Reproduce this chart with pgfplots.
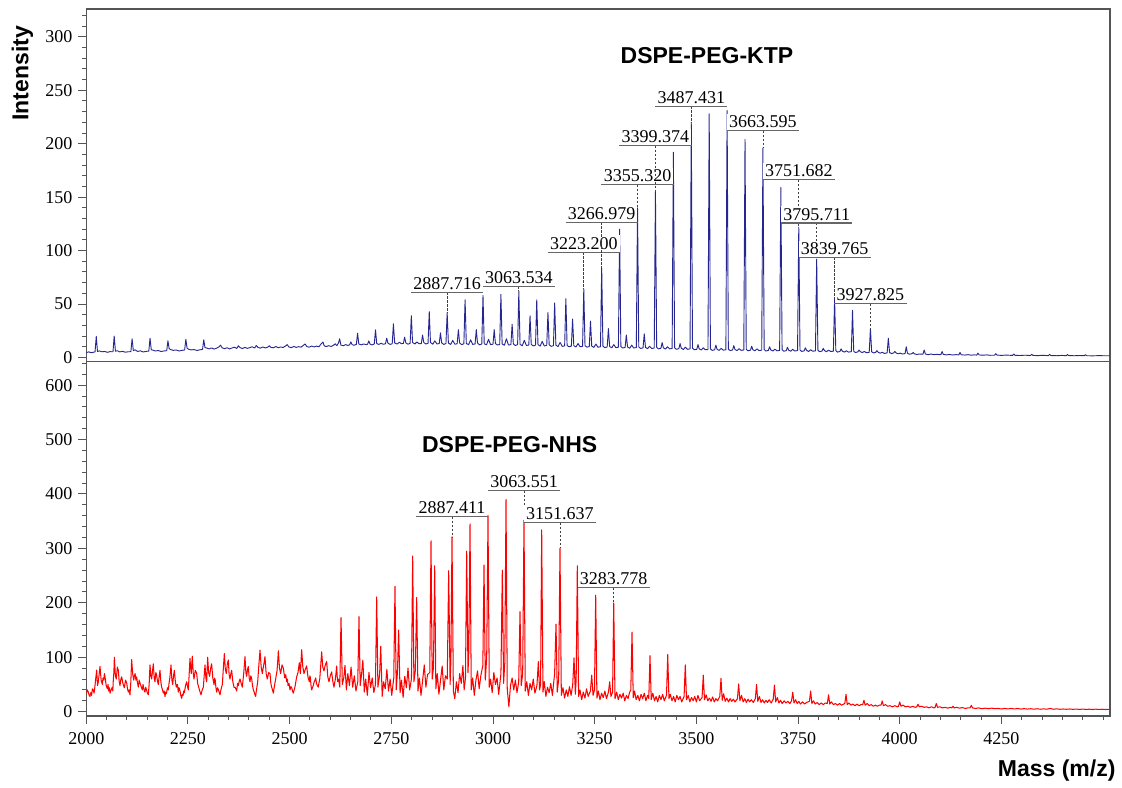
\documentclass[border=0pt]{standalone}
\usepackage{fontspec}
\setmainfont{Liberation Serif}
\newfontfamily\arialf{Liberation Sans}
\usepackage{pgfplots}
\pgfplotsset{compat=1.18}
\definecolor{specblue}{RGB}{38,38,145}
\definecolor{framegray}{RGB}{85,85,85}
\newcommand{\lblfont}{\fontsize{10.8}{12}\selectfont}
\newcommand{\pk}[4]{%
 \draw[dash pattern=on 1.4pt off 1pt, black!75, line width=0.5pt] (axis cs:#1,#2) -- (axis cs:#1,#3);
 \node[anchor=south, inner xsep=1.2pt, inner ysep=1.3pt, fill=white, font=\lblfont] (n) at (axis cs:#1,#2) {#4};
 \draw[black!60, line width=0.9pt] (n.south west) -- (n.south east);
}
\pgfplotsset{
 specaxis/.style={
  scale only axis, width=614.2pt,
  xmin=2000, xmax=4517,
  axis line style={draw=framegray, line width=0.9pt},
  tick align=outside,
  major tick length=4.8pt, minor tick length=2.6pt,
  every tick/.style={framegray, line width=0.6pt},
  ytick pos=left, xtick pos=bottom,
  tick label style={font=\fontsize{10.8}{12}\selectfont},
  xticklabel style={yshift=-1.5pt},
  /pgf/number format/assume math mode=true,
  /pgf/number format/1000 sep={},
  clip=true,
 }
}
\begin{document}
\begin{tikzpicture}[x=1pt,y=1pt]
\path[use as bounding box] (0,0) rectangle (673.2,-472.2);
\begin{axis}[specaxis, name=top, at={(51.78pt,-217.02pt)}, anchor=south west,
 height=211.6pt, ymin=-4, ymax=326,
 xtick=\empty, ytick={0,50,...,300}, minor ytick={0,10,...,320}]
\addplot[specblue, line width=0.55pt, line join=round] coordinates {
(2000,4.5) (2006,5.2) (2012,4.4) (2018,4.9) (2021.5,5.2) (2024.5,19.7) (2027.5,5.6) (2032,6.1) (2038,5.3) (2045,5.6) (2052,4.8) (2058,5.4) (2065.6,5.3) (2068.6,20) (2071.6,5.8) (2076,6.3) (2082,5.2) (2089,5.7) (2096,4.9) (2103,5.3) (2109.6,5.4) (2112.6,17.5) (2115.6,6.4) (2120,7.1) (2126,5.6) (2133,6.2) (2140,5.1) (2147,5.7) (2153.7,5.9) (2156.7,18) (2159.7,7.2) (2164,6.8) (2170,6.0) (2177,6.5) (2184,5.5) (2191,6.1) (2197.7,6.3) (2200.7,15.6) (2203.7,8.2) (2208,7.3) (2214,6.6) (2221,7.0) (2228,6.0) (2235,6.6) (2241.8,7.0) (2244.8,17) (2247.8,8.6) (2252,7.6) (2258,7.0) (2265,7.4) (2272,6.5) (2279,7.1) (2285.8,7.5) (2288.8,16.5) (2291.8,9.3) (2296,8.8)
(2302,8.0) (2308,8.9) (2314,7.8) (2320,8.6) (2326,9.8) (2330,11.5) (2334,9.0) (2340,8.2) (2346,9.1) (2352,8.0) (2358,8.8) (2364,9.6) (2370,8.4) (2374,10.9) (2378,9.2) (2384,8.3) (2390,9.4) (2396,8.5) (2402,9.2) (2408,10.0) (2414,8.8) (2418,11.2) (2422,9.4) (2428,8.7) (2434,9.8) (2440,8.9) (2446,9.6) (2450,11.0) (2454,9.4) (2460,9.0) (2466,10.2) (2472,9.1) (2478,9.8) (2484,9.3) (2490,10.8) (2494,12.0) (2498,9.8) (2504,9.2) (2510,10.3) (2516,9.4) (2522,10.1) (2528,9.6) (2534,11.4) (2538,12.6) (2542,10.2) (2548,9.6) (2554,10.7) (2560,9.8) (2566,10.6) (2572,10.0) (2578,13.0) (2582,14.4) (2585,10.8) (2590,10.2) (2596,11.0) (2602,10.3) (2608,11.4) (2612,12.8) (2616,11.0) (2620,13.5) (2623,17.5) (2626,11.5) (2632,11.0) (2638,12.0) (2643,11.2) (2647.5,11.8) (2650.5,14.5) (2653.5,12.0) (2658,11.4) (2664,12.2) (2667,22.7) (2670,12.6) (2676,11.8) (2682,12.6) (2688,12.0) (2691.6,12.4) (2694.6,15.5) (2697.6,12.5) (2703,11.7) (2708.1,12.6) (2711.1,25.8) (2714.1,13) (2719,12.2) (2725,13.2) (2730,12.3) (2735.65,12.8) (2738.65,18) (2741.65,13.4) (2747,12.2) (2752.15,12.8) (2755.15,31.5) (2758.15,13.6) (2764,12.5) (2770,14.2) (2775,12.8) (2779.7,13.2) (2782.7,19) (2785.7,13.6) (2791,12.4) (2796.2,13.2) (2799.2,39) (2802.2,14) (2808,12.6) (2813,14.5) (2818,12.8) (2823.75,13) (2826.75,21) (2829.75,14) (2835,12.6) (2840.25,13.2) (2843.25,43) (2846.25,14) (2852,12.4) (2857,15.5) (2862,12.6) (2867.8,13) (2870.8,23) (2873.8,13.6) (2879,12.2) (2884.3,13) (2887.3,42) (2890.3,13.4) (2896,12.2) (2901,16) (2906,12.4) (2911.85,12.8) (2914.85,26) (2917.85,13.6) (2923,12) (2928.35,12.8) (2931.35,54) (2934.35,13) (2940,12) (2945,16.5) (2950,12.2) (2955.9,12.6) (2958.9,26) (2961.9,13.4) (2967,11.8) (2972.4,12.6) (2975.4,58) (2978.4,12.8) (2984,11.8) (2989,17) (2994,12) (2999.95,12.4) (3002.95,26) (3005.95,13) (3011,11.6) (3016.45,12.2) (3019.45,59) (3022.45,12.6) (3028,11.4) (3033,17.5) (3038,11.6) (3044,12) (3047,31) (3050,12.6) (3055,11.2) (3060.5,12) (3063.5,62) (3066.5,12.2) (3072,11) (3077,16) (3082,11.2) (3088.05,11.6) (3091.05,39) (3094.05,12.2) (3099,10.8) (3104.55,11.6) (3107.55,54) (3110.55,12) (3116,10.6) (3121,15) (3126,10.8) (3132.1,11.2) (3135.1,42) (3138.1,11.8) (3143,10.4) (3148.6,11) (3151.6,51) (3154.6,11.4) (3160,10.2) (3165,14) (3170,10.4) (3176.15,10.8) (3179.15,55) (3182.15,11.2) (3187,10) (3192.65,10.6) (3195.65,36) (3198.65,11) (3204,9.8) (3209,13) (3214,10) (3220.2,10.4) (3223.2,64) (3226.2,11) (3231,9.6) (3236.7,10.2) (3239.7,34) (3242.7,10.6) (3248,9.4) (3253,12.5) (3258,9.6) (3264.25,10) (3267.25,84) (3270.25,10.6) (3275,9.2) (3280.75,9.8) (3283.75,27) (3286.75,10.2) (3292,9) (3297,12) (3302,9.2) (3308.3,9.6) (3311.3,120) (3314.3,10.2) (3319,8.8) (3324.8,9.4) (3327.8,21) (3330.8,9.8) (3336,8.6) (3341,11.5) (3346,8.8) (3352.35,9.2) (3355.35,140) (3358.35,9.8) (3363,8.4) (3368.85,9) (3371.85,22) (3374.85,9.4) (3380,8.2) (3385,10.5) (3390,8.4) (3396.4,8.8) (3399.4,155) (3402.4,9.4) (3407,8) (3412.9,8.6) (3415.9,14) (3418.9,9) (3424,7.8) (3429,10) (3434,8) (3440.45,8.4) (3443.45,192) (3446.45,9) (3451,7.6) (3456.95,8.2) (3459.95,13) (3462.95,8.6) (3468,7.4) (3473,9.6) (3478,7.6) (3484.5,8) (3487.5,220) (3490.5,8.6) (3495,7.2) (3501,7.6) (3504,12) (3507,8) (3512,7) (3517,9) (3522,7.2) (3528.55,7.4) (3531.55,228) (3534.55,8) (3539,6.6) (3545,7.2) (3548,11.5) (3551,7.6) (3556,6.6) (3561,8.5) (3566,6.8) (3572.6,7.2) (3575.6,231) (3578.6,7.8) (3583,6.4) (3589,7) (3592,11) (3595,7.4) (3600,6.4) (3605,8.2) (3610,6.6) (3616.65,7) (3619.65,204) (3622.65,7.6) (3627,6.2) (3633,6.8) (3636,10.5) (3639,7.2) (3644,6.2) (3649,8) (3654,6.4) (3660.7,6.8) (3663.7,196) (3666.7,7.4) (3671,6) (3677,6.6) (3680,10) (3683,7) (3688,6) (3693,7.8) (3698,6.2) (3704.75,6.6) (3707.75,159) (3710.75,7.2) (3715,5.8) (3721,6.4) (3724,9.5) (3727,6.8) (3732,5.8) (3737,7.6) (3742,6) (3748.8,6.4) (3751.8,122) (3754.8,7) (3759,5.6) (3765,6.2) (3768,9) (3771,6.6) (3776,5.6) (3781,7.2) (3786,5.8) (3792.85,6.2) (3795.85,92) (3798.85,6.8) (3803,5.4) (3809,6) (3812,8.5) (3815,6.4) (3820,5.4) (3825,6.8) (3830,5.6) (3836.9,5.8) (3839.9,55) (3842.9,6.4) (3847,5) (3853,5.6) (3856,8) (3859,5.8) (3864,5) (3869,6.2) (3874,5) (3880.95,5.4) (3883.95,44) (3886.95,5.8) (3891,4.6) (3897,5.2) (3900,7) (3903,5.4) (3908,4.6) (3913,5.6) (3918,4.4) (3925,4.8) (3928,27) (3931,5.2) (3936,4.2) (3941,4.8) (3944,6.4) (3947,4.8) (3952,4) (3957,4.8) (3962,3.8) (3969.05,4.2) (3972.05,18) (3975.05,4.6) (3980,3.6) (3985,4.2) (3988,5.6) (3991,4.2) (3996,3.4) (4001,4) (4006,3.2) (4013.1,3.6) (4016.1,10) (4019.1,3.8) (4024,3) (4030,3.5) (4033,4.6) (4036,3.4) (4042,2.8) (4048,3.2) (4057.15,3) (4060.15,7) (4063.15,3.2) (4070,2.6) (4077,3.2) (4084,2.6) (4090,2.9) (4101.2,2.6) (4104.2,5.5) (4107.2,2.8) (4115,2.4) (4122,2.8) (4130,2.3) (4138,2.6) (4145.25,2.4) (4148.25,4.6) (4151.25,2.5) (4160,2.2) (4168,2.6) (4176,2.1) (4183,2.4) (4189.3,2.2) (4192.3,4) (4195.3,2.3) (4205,2.1) (4214,2.4) (4222,2) (4233.35,2.1) (4236.35,3.5) (4239.35,2.2) (4250,1.9) (4262,2.2) (4277.4,1.9) (4280.4,3.2) (4283.4,2) (4295,1.8) (4308,2.1) (4321.45,1.8) (4324.45,3) (4327.45,1.9) (4340,1.7) (4352,2) (4365.5,1.7) (4368.5,2.9) (4371.5,1.8) (4385,1.6) (4398,1.9) (4409.55,1.6) (4412.55,2.7) (4415.55,1.7) (4430,1.6) (4443,1.8) (4453.6,1.6) (4456.6,2.6) (4459.6,1.6) (4475,1.5) (4490,1.7) (4500,1.6) (4517,1.6)
};
\node[font=\arialf\bfseries\fontsize{13.8}{16}\selectfont] at (axis cs:3526,282.5) {DSPE-PEG-KTP};
\pk{2887.3}{60.9}{42}{2887.716}
\pk{3063.5}{66.5}{62}{3063.534}
\pk{3223.2}{98.3}{64}{3223.200}
\pk{3267.25}{126.4}{84}{3266.979}
\pk{3355.35}{161.7}{140}{3355.320}
\pk{3399.4}{198.2}{155}{3399.374}
\pk{3487.5}{235}{220}{3487.431}
\pk{3663.7}{212.3}{196}{3663.595}
\pk{3751.8}{166.4}{122}{3751.682}
\pk{3795.85}{125.8}{92}{3795.711}
\pk{3839.9}{93.6}{55}{3839.765}
\pk{3928}{50.3}{27}{3927.825}
\end{axis}
\begin{axis}[specaxis, name=bot, at={(top.south west)}, anchor=north west,
 height=212.6pt, ymin=-8, ymax=643,
 xtick={2000,2250,...,4250}, minor xtick={2000,2050,...,4500},
 ytick={0,100,...,600}, minor ytick={0,20,...,640}]
\addplot[red, line width=0.62pt, line join=round] coordinates {
(2000,33) (2002.5,40) (2005,36) (2007,30) (2009,28) (2011,35) (2013,30) (2015,42) (2017,40) (2019,34) (2021,45) (2023,60) (2025.5,76.5) (2027.5,48) (2029.6,55) (2031.5,68) (2033.7,83) (2036.5,58) (2039.4,50) (2041,62) (2043,58) (2044.5,70) (2046,64) (2049,48) (2051.7,42) (2053.5,50) (2055,38) (2056.8,44) (2058.3,34) (2061,40) (2064,45) (2065.2,38) (2066.5,60) (2067.8,72) (2069,100) (2071.5,66) (2073.8,60) (2076.3,82) (2078.8,76) (2080.8,56) (2082.9,48) (2085,60) (2087,64) (2090,52) (2093.5,44) (2096.5,58) (2099.3,53) (2101.3,42) (2103.3,36) (2105.4,40) (2107.4,31) (2109.5,55) (2111.5,96) (2114,70) (2116.5,58) (2118.3,66) (2120,70) (2122,58) (2123.8,64) (2126,52) (2128,45) (2130,58) (2132,53) (2135,46) (2137.8,40) (2139.5,50) (2141,44) (2142.7,38) (2144.3,36) (2146,45) (2148,40) (2150.3,34) (2152.5,31) (2154.5,50) (2156.6,86) (2158.7,66) (2160.7,60) (2162.8,75) (2164.8,88) (2166.9,62) (2168.9,55) (2171,72) (2173,67) (2175,56) (2177,50) (2179,64) (2181.2,76) (2183.3,55) (2185.3,45) (2187.4,40) (2189.4,34) (2191.5,38) (2193.5,28) (2195.3,36) (2197,33) (2199.4,44) (2201.7,40) (2203.4,52) (2205,60) (2206.7,72) (2208.3,86) (2210.4,58) (2212.4,50) (2214.5,66) (2216.5,76) (2219,55) (2221.4,45) (2224,50) (2226.3,36) (2228,44) (2230,40) (2232.3,30) (2234.5,24.6) (2236.3,32) (2238,30) (2239.5,38) (2241,35) (2244,48) (2246.8,55) (2248.9,46) (2250.9,40) (2253,70) (2255,98) (2256.5,80) (2258,70) (2259.4,88) (2260.7,102) (2262.8,72) (2264.8,60) (2268,76) (2271.4,70.5) (2273.8,52) (2276.3,45) (2279,38) (2282,31) (2285,40) (2287.8,45) (2290,68) (2291.9,86) (2294,62) (2296,55) (2297.2,80) (2298.4,100) (2300.8,72) (2303.3,65) (2305.8,80) (2308.2,88) (2311,62) (2314,50) (2315.5,62) (2317,58) (2318.8,44) (2320.5,36) (2322.8,44) (2325,40) (2327,35) (2328.7,31) (2331.5,42) (2334.5,50) (2337,80) (2339.4,107) (2341.8,78) (2344.3,70) (2346.8,88) (2349.2,95) (2351.2,68) (2353.3,60) (2355.4,70) (2357.4,76) (2360.3,55) (2363.2,45) (2366.5,44) (2369.7,38) (2372,52) (2374,48) (2376,56) (2378,60) (2380.8,52) (2383.6,45) (2387,70) (2390.2,101) (2392.3,72) (2394.3,65) (2396.4,78) (2398.4,83) (2400.5,62) (2402.5,55) (2404.5,66) (2406.6,61) (2408.7,48) (2410.7,40) (2412.8,36) (2414.8,31) (2416.4,28) (2418,38) (2419.7,46) (2421.4,55) (2424.2,85) (2427.1,113) (2430,82) (2432.8,70) (2434.4,78) (2436,85) (2437.7,92) (2439.3,101) (2442.2,70) (2445.1,60) (2448.4,72) (2451.7,70) (2453.8,52) (2455.8,45) (2457.8,40) (2459.9,34) (2462.7,48) (2465.6,60) (2467.3,68) (2469,75) (2470.6,92) (2472.2,112) (2475,80) (2477.9,70) (2481.2,86) (2484.5,80) (2486.3,70) (2488,62) (2490.4,68) (2492.7,55) (2494.4,60) (2496,48) (2498.5,52) (2500.9,40) (2503,46) (2505,44) (2507,38) (2509,34) (2511,40) (2513,45) (2515,54) (2517.2,64) (2520.5,72) (2523.8,90) (2525.2,78) (2526.5,70) (2528,92) (2529.5,114) (2532.4,82) (2535.3,70) (2538.5,78) (2541.8,84) (2545,64) (2548.4,55) (2549.7,66) (2551,62) (2552.5,48) (2554.1,40) (2556,44) (2558,48) (2560,54) (2562.3,58) (2564,62) (2566,52) (2568,48) (2570.5,45) (2572.3,54) (2574,60) (2576.4,85) (2578.7,110) (2581.5,82) (2584.4,75) (2587.7,86) (2591,92) (2593.8,64) (2596.7,55) (2600,66) (2603.3,73) (2606,56) (2609,45) (2610.5,52) (2612,58) (2613.8,70) (2615.6,84) (2616.8,66) (2618,55)
(2620.5,60) (2623.3,45) (2626.3,173) (2629.5,50) (2633,62) (2636,85) (2639.5,40) (2643,70) (2647,48) (2651,82) (2655,45) (2659,66) (2663,38) (2667.5,55) (2670.5,174.5) (2673.5,48) (2677,70) (2680,95) (2683.5,36) (2687,60) (2691,30) (2695,72) (2699,44) (2703,62) (2707,35) (2711,50) (2714,211) (2717,45) (2721,66) (2724,120) (2727.5,28) (2731,55) (2735,42) (2739,78) (2743,38) (2747,60) (2751,30) (2756,62) (2759,230) (2762,40) (2765,72) (2768,150) (2771.5,35) (2775,58) (2779,26) (2783,65) (2787,44) (2791,80) (2795,40) (2799.5,60) (2802.5,286) (2805.5,55) (2809,75) (2812.3,210) (2815.5,38) (2819,62) (2823,30) (2827,58) (2831,86) (2835,45) (2839,68) (2844.5,72) (2847.6,314) (2850.5,60) (2853.5,80) (2856.6,268) (2859.5,42) (2863,70) (2867,32) (2871,58) (2875,84) (2879,40) (2883,66) (2887.5,60) (2891,259) (2894.5,50) (2896.5,95) (2899.2,321) (2902.5,38) (2906,24) (2910,55) (2914,35) (2918,70) (2922,52) (2926,85) (2929,40) (2932.3,62) (2935.3,295) (2938.5,72) (2940.5,110) (2943.5,345) (2946.5,40) (2950,62) (2954,30) (2958,58) (2962,75) (2966,42) (2970,66) (2975,85) (2977.9,269.5) (2981,58) (2984.5,100) (2987.7,360) (2990.8,45) (2994,60) (2998,35) (3002,72) (3006,50) (3010,62) (3014,32) (3019.5,70) (3022.9,260) (3026,52) (3029,90) (3032,390) (3035,42) (3039,9) (3043,48) (3047,62) (3051,40) (3055,58) (3059,35) (3063.2,55) (3066.4,184) (3069.5,48) (3073,70) (3076.2,352) (3079.3,38) (3083,55) (3087,30) (3091,52) (3095,40) (3099,60) (3103,34) (3108,48) (3111.5,92) (3114.5,40) (3117,50) (3119.7,334) (3122.8,36) (3126,55) (3130,28) (3134,45) (3138,35) (3142,52) (3146,30) (3151.5,70) (3154.9,161) (3158,36) (3161.5,60) (3164.7,300) (3168,30) (3172,44) (3176,25) (3180,40) (3184,28) (3188,46) (3192,30) (3196,50) (3199.2,99) (3202.5,32) (3204.5,60) (3207.3,268) (3210.5,28) (3214,40) (3218,22) (3222,36) (3226,25) (3230,42) (3234,28) (3239.5,38) (3242.7,67) (3246,30) (3249.5,40) (3252.5,214) (3255.5,25) (3259,38) (3263,22) (3267,34) (3271,26) (3275,38) (3279,24) (3283.8,36) (3286.9,55) (3290,28) (3294,36) (3296.8,200) (3300,24) (3304,36) (3308,22) (3312,32) (3316,25) (3320,34) (3324,20) (3328,30) (3332,24) (3336,36) (3338.8,40) (3341.8,146) (3344.8,26) (3348,38) (3352,22) (3356,30) (3360,20) (3364,32) (3368,24) (3372,34) (3376,20) (3380,30) (3383,24) (3386,103) (3389,22) (3393,34) (3397,20) (3401,28) (3405,18) (3409,30) (3413,22) (3417,32) (3421,20) (3426.6,30) (3429.6,105) (3432.6,24) (3436,32) (3440,20) (3444,28) (3448,18) (3452,30) (3456,22) (3460,28) (3464,18) (3469.8,28) (3472.8,86) (3475.8,22) (3480,30) (3484,18) (3488,26) (3492,20) (3496,28) (3500,18) (3504,30) (3508,20) (3514,26) (3517,67) (3520,22) (3524,31) (3528,20) (3532,25) (3536,19) (3540,27) (3544,18) (3548,24) (3552,20) (3557.6,28) (3560.6,61) (3563.6,21) (3567,33) (3571,19) (3575,25) (3579,18) (3583,24) (3587,19) (3591,23) (3595,18) (3601,24) (3604,51) (3607,20) (3611,30) (3615,18) (3619,24) (3623,17) (3627,23) (3631,18) (3635,22) (3640,17) (3645,24) (3648,50) (3651,19) (3655,28) (3659,17) (3663,22) (3667,16) (3671,21) (3675,17) (3679,22) (3684,16) (3689,23) (3692,49) (3695,18) (3699,26) (3703,16) (3707,21) (3711,15) (3716,20) (3720,16) (3725,19) (3730,15) (3734,20) (3737,36) (3740,16) (3744,22) (3748,15) (3752,19) (3756,14) (3761,18) (3766,14) (3771,17) (3778,19) (3781,38) (3784,15) (3788,20) (3792,14) (3797,17) (3802,13) (3807,16) (3812,13) (3817,16) (3822,15) (3825,31) (3828,14) (3832,18) (3837,13) (3842,15) (3847,12) (3852,15) (3857,12) (3862,14) (3865,15) (3868,32) (3871,13) (3875,16) (3880,12) (3885,14) (3890,11) (3895,14) (3900,11) (3905,13) (3909,13) (3912,21) (3915,12) (3920,15) (3925,11) (3930,13) (3935,10) (3940,12) (3945,10) (3950,12) (3954,12) (3957,19.6) (3960,11) (3965,13) (3970,10) (3976,11) (3982,9) (3988,11) (3994,9) (3997,10) (4000,18) (4003,10) (4008,12) (4014,9) (4020,10) (4026,8) (4032,10) (4038,8) (4042,9) (4045,13.6) (4048,9) (4054,10) (4060,8) (4066,9) (4072,7) (4078,9) (4084,7) (4087,8) (4090,15) (4093,8) (4099,9) (4105,7) (4112,8) (4118,6.5) (4124,8) (4128,7) (4131,10) (4134,7) (4140,8) (4147,6.5) (4154,7.5) (4161,6) (4168,7) (4173,7) (4176,11.7) (4179,7) (4186,6) (4194,7) (4202,5.5) (4210,6.5) (4218,5.5) (4226,6.5) (4234,5.5) (4242,6) (4250,5) (4258,6) (4266,5) (4274,6) (4282,5) (4290,5.8) (4298,4.8) (4306,5.6) (4314,4.8) (4322,5.5) (4330,4.6) (4338,5.4) (4346,4.5) (4354,5.2) (4362,4.6) (4370,6) (4378,4.5) (4386,5.2) (4394,4.4) (4402,5) (4410,4.4) (4418,5) (4426,4.3) (4434,4.9) (4442,4.2) (4450,4.8) (4458,4.2) (4466,4.6) (4474,4) (4482,4.7) (4490,4.1) (4498,4.5) (4506,4) (4517,4.4)
};
\node[font=\arialf\bfseries\fontsize{13.8}{16}\selectfont] at (axis cs:3041,490) {DSPE-PEG-NHS};
\pk{2899.2}{358.2}{321}{2887.411}
\pk{3076.2}{406}{352}{3063.551}
\pk{3164.7}{347.2}{300}{3151.637}
\pk{3296.8}{227.8}{200}{3283.778}
\end{axis}
\node[rotate=90, font=\arialf\bfseries\fontsize{13.8}{16}\selectfont] at (13.5,-44) {Intensity};
\node[font=\arialf\bfseries\fontsize{13.8}{16}\selectfont] at (634,-462.5) {Mass (m/z)};
\end{tikzpicture}
\end{document}
